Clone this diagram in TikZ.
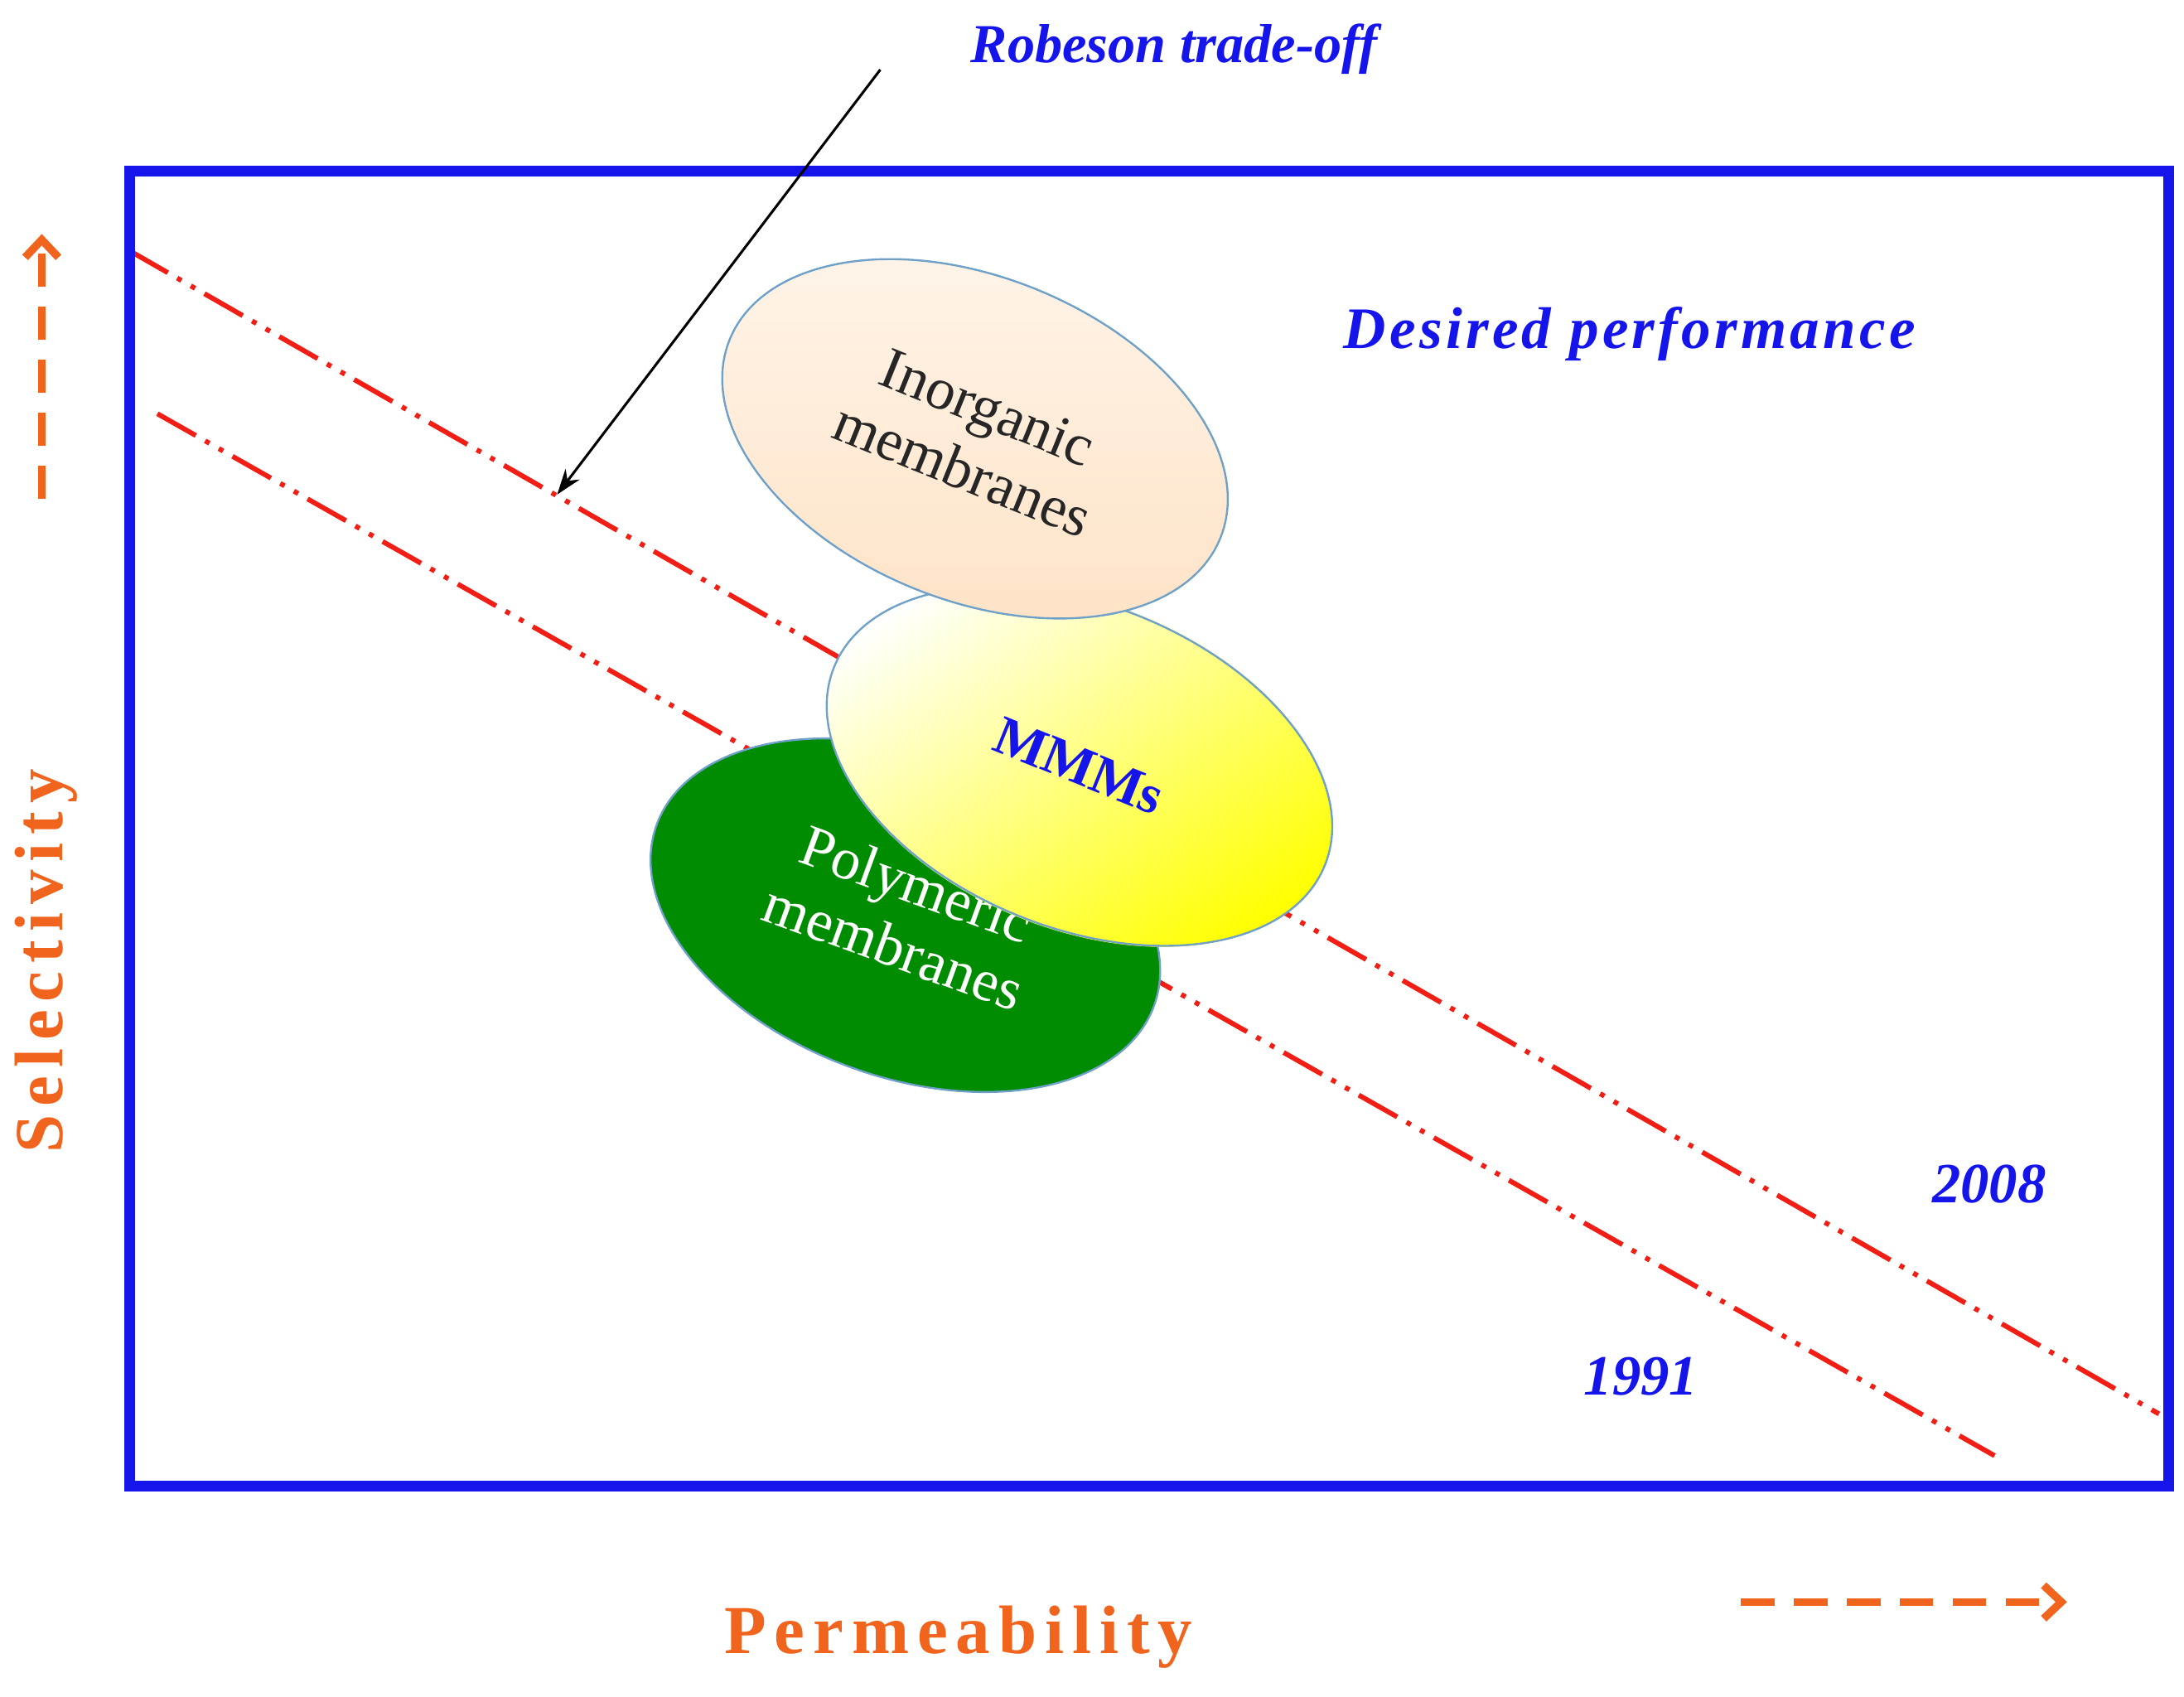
\documentclass[tikz,border=0pt]{standalone}
\usepackage{fontspec}
\setmainfont{Liberation Serif}
\usetikzlibrary{shapes.geometric,arrows.meta}
\definecolor{rblue}{RGB}{20,20,235}
\definecolor{ror}{RGB}{240,100,30}
\definecolor{rred}{RGB}{240,30,20}
\definecolor{edge}{RGB}{110,160,200}
\tikzset{
 trade/.style={rred,line width=5pt,dash pattern=on 45pt off 11pt on 5pt off 11pt on 5pt off 11pt},
 blob/.style={ellipse,draw=edge,line width=2pt,minimum width=380*1.42pt,minimum height=232*1.42pt,align=center,inner sep=0pt},
 axis/.style={ror,line width=8pt,dash pattern=on 34pt off 20pt,-{Straight Barb[length=18pt,width=34pt]}}
}
\begin{document}
\begin{tikzpicture}[x=1.42pt,y=-1.42pt]
\useasboundingbox (0,0) rectangle (1568,1218);
\coordinate (a1) at (93,180); \coordinate (a2) at (1550,1015);
\coordinate (b1) at (113,297); \coordinate (b2) at (1432,1045);
\draw[trade] (a1) -- (a2);
\draw[trade] (b1) -- (b2);
\draw[rblue,line width=11pt] (93,123) rectangle (1557,1067);
\node[blob,rotate=-20,fill=green!55!black,text=white,font=\fontsize{60}{68}\selectfont] (poly) at (650,657) {Polymeric\\membranes};
\shade[top color=white,bottom color=yellow,shading angle=35,rotate around={-22:(775,550)}] (775,550) ellipse (190 and 117);
\node[blob,rotate=-22,text=rblue,font=\fontsize{56}{60}\selectfont\bfseries] (mmm) at (775,550) {MMMs};
\node[blob,rotate=-22,top color=orange!8,bottom color=orange!22,text=black!85,font=\fontsize{60}{68}\selectfont] (inorg) at (700,315) {Inorganic\\membranes};
\node[text=rblue,font=\fontsize{56}{60}\selectfont\bfseries\itshape] (rob) at (843,35) {Robeson trade-off};
\coordinate (rs) at (632,50); \coordinate (re) at (400,355);
\draw[-{Stealth[length=26pt,width=18pt]},line width=2.6pt] (rs) -- (re);
\node[text=rblue,font=\fontsize{60}{64}\selectfont\bfseries\itshape] (des) at (1170,240) {\addfontfeature{LetterSpace=6}Desired performance};
\node[text=rblue,font=\fontsize{58}{60}\selectfont\bfseries\itshape] (y08) at (1428,850) {2008};
\node[text=rblue,font=\fontsize{58}{60}\selectfont\bfseries\itshape] (y91) at (1178,988) {1991};
\node[text=ror,font=\fontsize{70}{70}\selectfont\bfseries,rotate=90] (sel) at (33,690) {\addfontfeature{LetterSpace=12}Selectivity};
\node[text=ror,font=\fontsize{70}{70}\selectfont\bfseries] (perm) at (688,1175) {\addfontfeature{LetterSpace=12}Permeability};
\coordinate (s1) at (30,358); \coordinate (s2) at (30,168);
\draw[axis] (s1) -- (s2);
\coordinate (p1) at (1250,1150); \coordinate (p2) at (1484,1150);
\draw[axis] (p1) -- (p2);
\end{tikzpicture}
\end{document}
